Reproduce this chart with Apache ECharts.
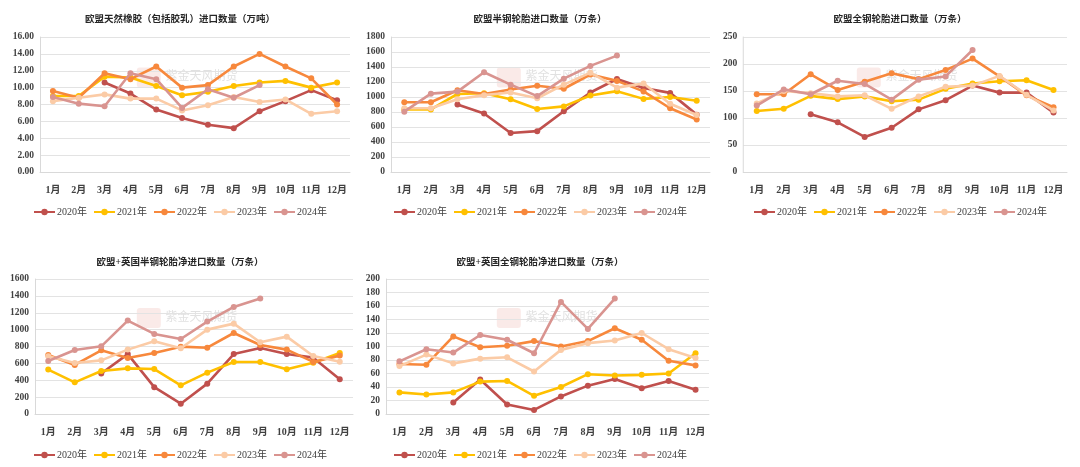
<!DOCTYPE html>
<html><head><meta charset="utf-8">
<script src="https://cdn.jsdelivr.net/npm/echarts@6/dist/echarts.min.js"></script>
<style>
html,body{margin:0;padding:0;background:#fff;width:1080px;height:467px;overflow:hidden;}
.c{position:absolute;}
</style></head>
<body>
<div id="c1" class="c" style="left:0;top:0;width:360px;height:225px"></div>
<div id="c2" class="c" style="left:360px;top:0;width:360px;height:225px"></div>
<div id="c3" class="c" style="left:720px;top:0;width:360px;height:225px"></div>
<div id="c4" class="c" style="left:0;top:240px;width:360px;height:227px"></div>
<div id="c5" class="c" style="left:360px;top:240px;width:360px;height:227px"></div>
<script>
const months = ['1月','2月','3月','4月','5月','6月','7月','8月','9月','10月','11月','12月'];
const years = ['2020年','2021年','2022年','2023年','2024年'];

// Chart 1: 欧盟天然橡胶（包括胶乳）进口数量（万吨）
const rubber2020 = [null,null,10.6,9.3,7.4,6.4,5.6,5.2,7.2,8.4,9.7,8.5];
const rubber2021 = [9.0,9.0,11.3,11.2,10.2,9.1,9.5,10.2,10.6,10.8,10.0,10.6];
const rubber2022 = [9.6,8.8,11.7,11.0,12.5,10.0,10.3,12.5,14.0,12.5,11.1,8.0];
const rubber2023 = [8.4,8.8,9.2,8.7,8.7,7.3,7.9,8.9,8.3,8.6,6.9,7.2];
const rubber2024 = [8.9,8.1,7.8,11.7,11.0,7.6,9.8,8.8,10.3];

// Chart 2: 欧盟半钢轮胎进口数量（万条）
const semi2020 = [null,null,900,780,520,545,810,1060,1240,1120,1055,765];
const semi2021 = [835,835,1040,1050,970,840,875,1020,1078,975,1000,950];
const semi2022 = [930,930,1090,1040,1100,1150,1110,1300,1215,1075,850,700];
const semi2023 = [850,850,970,1025,1060,983,1165,1325,1125,1180,910,760];
const semi2024 = [805,1045,1072,1330,1165,1012,1245,1415,1552];

// Chart 3: 欧盟全钢轮胎进口数量（万条）
const all2020 = [null,null,107,92,65,82,116,133,160,147,147,110];
const all2021 = [113,117,141,135,140,131,134,154,164,168,170,152];
const all2022 = [144,144,181,152,167,183,172,189,210,177,142,120];
const all2023 = [127,150,146,140,142,117,140,158,160,178,143,114];
const all2024 = [123,153,144,169,163,134,171,177,226];

// Chart 4: 欧盟+英国半钢轮胎净进口数量（万条）
const ukSemi2020 = [null,null,480,710,318,122,360,711,783,711,668,411];
const ukSemi2021 = [526,375,510,541,533,340,490,616,616,530,607,723];
const ukSemi2022 = [700,581,755,664,723,798,786,960,818,763,617,692];
const ukSemi2023 = [684,605,636,763,862,779,1000,1071,850,917,688,620];
const ukSemi2024 = [628,759,802,1107,949,889,1095,1269,1368];

// Chart 5: 欧盟+英国全钢轮胎净进口数量（万条）
const ukAll2020 = [null,null,17,51,14,6,26,42,52,38,49,36];
const ukAll2021 = [32,29,32,48,49,27,40,59,57,58,60,90];
const ukAll2022 = [74,73,115,99,101,108,100,108,127,110,79,72];
const ukAll2023 = [71,88,75,82,84,63,95,105,109,120,96,83];
const ukAll2024 = [78,96,91,117,110,90,166,126,171];

const colors = ['#C0504D','#FFC000','#F7883C','#FBCBA6','#D99490'];
const FONT = '"Liberation Serif","Noto Sans CJK SC",serif';

function makeChart(id, title, data, yMax, yInt, decimals, grid, legendTop, titleTop) {
  const ch = echarts.init(document.getElementById(id), null, {renderer:'canvas'});
  const series = data.map((d,i)=>({
    name: years[i], type:'line', data:d, connectNulls:false,
    symbol:'circle', symbolSize:6, z: 2+i,
    lineStyle:{width:2.6, color:colors[i]},
    itemStyle:{color:colors[i]},
    emphasis:{disabled:true}
  }));
  ch.setOption({
    animation:false,
    color: colors,
    title:{text:title, left:'center', top:titleTop,
      textStyle:{fontFamily:FONT, fontSize:9.5, fontWeight:'bold', color:'#262626'}},
    legend:{data:years, top:legendTop, left:'center', itemWidth:21, itemHeight:8, itemGap:6,
      textStyle:{fontFamily:FONT, fontSize:10, color:'#404040', padding:[0,0,0,-3]}},
    grid: Object.assign({containLabel:false}, grid),
    xAxis:{type:'category', data:months, boundaryGap:true,
      axisLine:{lineStyle:{color:'#D9D9D9'}}, axisTick:{show:false},
      axisLabel:{fontFamily:FONT, fontSize:10, fontWeight:'bold', color:'#404040', margin:13, interval:0}},
    yAxis:{type:'value', min:0, max:yMax, interval:yInt,
      axisLine:{show:true, lineStyle:{color:'#D9D9D9'}}, axisTick:{show:false},
      splitLine:{lineStyle:{color:'#E3E3E3'}},
      axisLabel:{fontFamily:FONT, fontSize:9.5, fontWeight:'bold', color:'#404040', margin:6,
        formatter:v=>v.toFixed(decimals)}},
    graphic:[
      {type:'rect', left:'38%', top:'30%', shape:{width:24, height:20, r:3}, style:{fill:'rgba(214,90,80,0.13)'}, silent:true, z:0},
      {type:'text', left:'46%', top:'31%', style:{text:'紫金天风期货', fill:'rgba(170,170,170,0.35)', font:'12px "Noto Sans CJK SC"'}, silent:true, z:0}
    ],
    series
  });
}

makeChart('c1','欧盟天然橡胶（包括胶乳）进口数量（万吨）',
  [rubber2020,rubber2021,rubber2022,rubber2023,rubber2024],16,2,2,
  {left:40,right:10,top:37,bottom:53},202,10);
makeChart('c2','欧盟半钢轮胎进口数量（万条）',
  [semi2020,semi2021,semi2022,semi2023,semi2024],1800,200,0,
  {left:31,right:10,top:37,bottom:53},202,10);
makeChart('c3','欧盟全钢轮胎进口数量（万条）',
  [all2020,all2021,all2022,all2023,all2024],250,50,0,
  {left:22,right:13,top:37,bottom:53},202,10);
makeChart('c4','欧盟+英国半钢轮胎净进口数量（万条）',
  [ukSemi2020,ukSemi2021,ukSemi2022,ukSemi2023,ukSemi2024],1600,200,0,
  {left:35,right:7,top:39,bottom:53},205,13);
makeChart('c5','欧盟+英国全钢轮胎净进口数量（万条）',
  [ukAll2020,ukAll2021,ukAll2022,ukAll2023,ukAll2024],200,20,0,
  {left:26,right:11,top:39,bottom:53},205,13);
</script>
</body></html>
